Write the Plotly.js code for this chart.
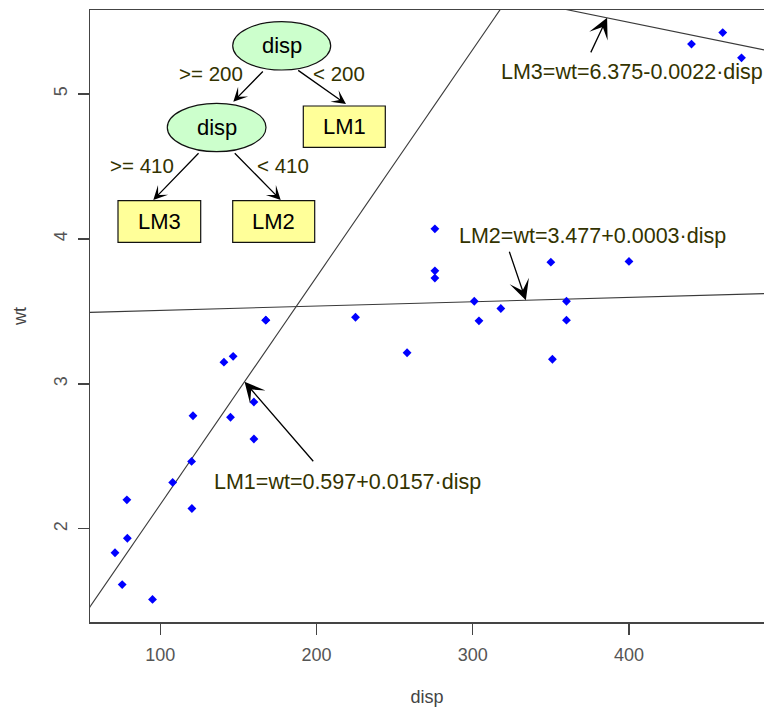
<!DOCTYPE html>
<html>
<head>
<meta charset="utf-8">
<script src="https://cdn.plot.ly/plotly-3.0.1.min.js"></script>
<style>
html,body{margin:0;padding:0;background:#fff;overflow:hidden;}
#chart{width:764px;height:708px;}
</style>
</head>
<body>
<div id="chart"></div>
<script>
// ---- data (mtcars: displacement vs weight) ----
const disp = [160, 160, 108, 258, 360, 225, 360, 146.7, 140.8, 167.6, 167.6, 275.8, 275.8, 275.8,
              472, 460, 440, 78.7, 75.7, 71.1, 120.1, 318, 304, 350, 400, 79, 120.3, 95.1, 351, 145, 301, 121];
const wt = [2.620, 2.875, 2.320, 3.215, 3.440, 3.460, 3.570, 3.190, 3.150, 3.440, 3.440, 4.070, 3.730, 3.780,
            5.250, 5.424, 5.345, 2.200, 1.615, 1.835, 2.465, 3.520, 3.435, 3.840, 3.845, 1.935, 2.140, 1.513, 3.170, 2.770, 3.570, 2.780];

// linear models at the tree leaves
const lmNames = ['LM1', 'LM2', 'LM3'];
const lmIntercept = [0.597, 3.477, 6.375];
const lmSlope = [0.0157, 0.0003, -0.0022];
const lmLabels = ['LM1=wt=0.597+0.0157·disp', 'LM2=wt=3.477+0.0003·disp', 'LM3=wt=6.375-0.0022·disp'];

// tree split labels
const splitVar = 'disp';
const splitLabels = ['>= 200', '< 200', '>= 410', '< 410'];

const xTicks = [100, 200, 300, 400];
const yTicks = [2, 3, 4, 5];

// ---- layout helpers ----
const xRange = [55.1, 486.4];
const yRange = [1.357, 5.580];
const PL = 90, PR = 764, PT = 10, PB = 622;
const px = v => (v - PL) / (PR - PL);
const py = v => (PB - v) / (PB - PT);
const olive = '#333300';
const FONT = 'Arial, "Liberation Sans", sans-serif';

const traces = [];
lmNames.forEach((n, i) => {
  traces.push({
    type: 'scatter', mode: 'lines', name: n,
    x: [xRange[0] - 10, xRange[1] + 10],
    y: [xRange[0] - 10, xRange[1] + 10].map(d => lmIntercept[i] + lmSlope[i] * d),
    line: {color: '#3a3a3a', width: 1.1},
    hoverinfo: 'skip', showlegend: false
  });
});
traces.push({
  type: 'scatter', mode: 'markers', x: disp, y: wt,
  marker: {symbol: 'diamond', size: 6.8, color: '#0000ff'},
  hoverinfo: 'skip', showlegend: false
});

const shapes = [];
const annotations = [];

// tree nodes
const ellipses = [[232.7, 21.7, 330.7, 70], [167.3, 103.3, 266, 151.7]];
ellipses.forEach(e => {
  shapes.push({type: 'circle', xref: 'paper', yref: 'paper',
    x0: px(e[0]), x1: px(e[2]), y0: py(e[3]), y1: py(e[1]),
    fillcolor: '#ccffcc', line: {color: '#111', width: 1.2}, layer: 'above'});
  annotations.push({xref: 'paper', yref: 'paper', x: px((e[0] + e[2]) / 2), y: py((e[1] + e[3]) / 2),
    text: splitVar, showarrow: false, font: {family: FONT, size: 22, color: '#000'},
    xanchor: 'center', yanchor: 'middle'});
});
const boxes = [[303.3, 106, 385.3, 147.3, 'LM1'], [118, 200.7, 200.7, 242.3, 'LM3'], [232.7, 200.7, 314.7, 242.3, 'LM2']];
boxes.forEach(b => {
  shapes.push({type: 'rect', xref: 'paper', yref: 'paper',
    x0: px(b[0]), x1: px(b[2]), y0: py(b[3]), y1: py(b[1]),
    fillcolor: '#ffff99', line: {color: '#111', width: 1.2}, layer: 'above'});
  annotations.push({xref: 'paper', yref: 'paper', x: px((b[0] + b[2]) / 2), y: py((b[1] + b[3]) / 2),
    text: b[4], showarrow: false, font: {family: FONT, size: 22, color: '#000'},
    xanchor: 'center', yanchor: 'middle'});
});
// tree edges: [tailX, tailY, tipX, tipY]
const edges = [[264.3, 70, 233.3, 101.7], [296.7, 69.3, 346, 104], [200, 151.7, 153.3, 200], [233.3, 151.7, 280.7, 200]];
edges.forEach(e => {
  annotations.push({xref: 'paper', yref: 'paper', x: px(e[2]), y: py(e[3]),
    ax: e[0] - e[2], ay: e[1] - e[3], text: '', showarrow: true,
    arrowhead: 3, arrowsize: 1.8, arrowwidth: 1.3, arrowcolor: '#000'});
});
const edgeLabelPos = [[210.7, 73.3], [339.3, 73.3], [142.2, 165.7], [283, 165.7]];
splitLabels.forEach((t, i) => {
  annotations.push({xref: 'paper', yref: 'paper', x: px(edgeLabelPos[i][0]), y: py(edgeLabelPos[i][1]),
    text: t, showarrow: false, font: {family: FONT, size: 20.5, color: olive},
    xanchor: 'center', yanchor: 'middle'});
});

// model labels with arrows pointing on the model lines
const lmTipX = [154, 334, 386];
const lmTail = [[70, 81], [-17, -50], [-17, 36]];
const lmTextPos = [[347.5, 482], [592, 236], [632, 72.5]];
lmNames.forEach((n, i) => {
  annotations.push({xref: 'x', yref: 'y', x: lmTipX[i], y: lmIntercept[i] + lmSlope[i] * lmTipX[i],
    ax: lmTail[i][0], ay: lmTail[i][1], text: '', showarrow: true,
    arrowhead: 3, arrowsize: 2.6, arrowwidth: 1.3, arrowcolor: '#000'});
  annotations.push({xref: 'paper', yref: 'paper', x: px(lmTextPos[i][0]), y: py(lmTextPos[i][1]),
    text: lmLabels[i], showarrow: false, font: {family: FONT, size: 21.5, color: olive},
    xanchor: 'center', yanchor: 'middle'});
});

const layout = {
  width: 764, height: 708,
  margin: {l: PL, r: 764 - PR, t: PT, b: 708 - PB},
  paper_bgcolor: '#fff', plot_bgcolor: '#fff',
  font: {family: FONT},
  xaxis: {
    range: xRange, tickvals: xTicks, ticktext: xTicks.map(String),
    ticks: 'outside', ticklen: 11, tickwidth: 1.3, tickcolor: '#444',
    showline: true, linecolor: '#444', linewidth: 1.5, mirror: true,
    showgrid: false, zeroline: false, ticklabelstandoff: 5,
    tickfont: {size: 18, color: '#555', family: FONT},
    title: {text: 'disp', standoff: 26, font: {size: 18, color: '#444', family: FONT}}
  },
  yaxis: {
    range: yRange, tickvals: yTicks, ticktext: yTicks.map(String), tickangle: -90,
    ticks: 'outside', ticklen: 11, tickwidth: 1.3, tickcolor: '#444',
    showline: true, linecolor: '#444', linewidth: 1.5,
    showgrid: false, zeroline: false, ticklabelstandoff: 3,
    tickfont: {size: 18, color: '#555', family: FONT},
    title: {text: 'wt', standoff: 20, font: {size: 18, color: '#444', family: FONT}}
  },
  shapes: shapes,
  annotations: annotations
};

Plotly.newPlot('chart', traces, layout, {staticPlot: true, displayModeBar: false});
</script>
</body>
</html>
